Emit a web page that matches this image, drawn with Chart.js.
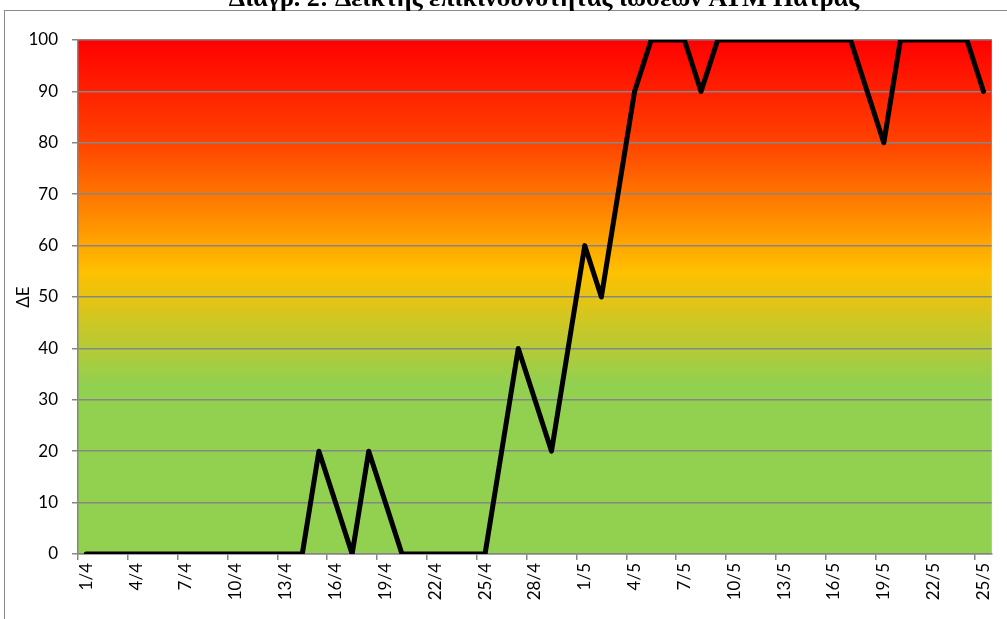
<!DOCTYPE html>
<html>
<head>
<meta charset="utf-8">
<script src="https://cdn.jsdelivr.net/npm/chart.js@4"></script>
<style>
  html, body { margin: 0; padding: 0; background: #fff; overflow: hidden; }
  #wrap { position: relative; width: 1007px; height: 619px; }
</style>
</head>
<body>
<div id="wrap"><canvas id="chart" width="1007" height="619"></canvas></div>
<script>
// dates 1/4 .. 25/5
const days = [];
for (let d = 1; d <= 30; d++) days.push(d + "/4");
for (let d = 1; d <= 25; d++) days.push(d + "/5");

// ΔΕ risk index per day
const riskIndex = [
  0, 0, 0, 0, 0, 0, 0, 0, 0, 0, 0, 0, 0, 0,
  20, 10, 0, 20, 10, 0,
  0, 0, 0, 0, 0,
  20, 40, 30, 20, 40, 60, 50, 70, 90,
  100, 100, 100, 90,
  100, 100, 100, 100, 100, 100, 100, 100, 100,
  90, 80, 100,
  100, 100, 100, 100, 90
];

const yTicks = [0, 10, 20, 30, 40, 50, 60, 70, 80, 90, 100];

const chartTitle = "Διάγρ. 2: Δείκτης επικινδυνότητας ιώσεων ΑΤΜ Πάτρας";
const axisFont = { family: "Lato", size: 17 };

// gradient background + frame + clipped title
const decor = {
  id: "decor",
  beforeDraw(chart) {
    const { ctx, chartArea: a } = chart;
    let g = ctx.createLinearGradient(0, a.top, 0, a.bottom);
    g.addColorStop(0, "#FF0000");
    g.addColorStop(0.2, "#FF4300");
    g.addColorStop(0.45, "#FFC000");
    g.addColorStop(0.67, "#92D050");
    g.addColorStop(1, "#92D050");
    ctx.save();
    ctx.fillStyle = g;
    ctx.fillRect(a.left, a.top, a.right - a.left, a.bottom - a.top);
    ctx.restore();
  },
  afterDraw(chart) {
    const ctx = chart.ctx;
    ctx.save();
    ctx.strokeStyle = "#8a8a8a";
    ctx.lineWidth = 1;
    ctx.strokeRect(4.5, 10.5, 1040, 700);
    ctx.fillStyle = "#000";
    ctx.font = "bold 26px 'Liberation Serif'";
    ctx.textAlign = "center";
    ctx.textBaseline = "alphabetic";
    ctx.fillText(chartTitle, 544, 6);
    ctx.restore();
  }
};

let ctx = document.getElementById("chart").getContext("2d");

let chart = new Chart(ctx, {
  type: "line",
  data: {
    labels: days,
    datasets: [{
      label: "ΔΕ",
      data: riskIndex,
      borderColor: "#000",
      borderWidth: 5,
      borderJoinStyle: "round",
      borderCapStyle: "round",
      pointRadius: 0,
      tension: 0
    }]
  },
  options: {
    responsive: false,
    animation: false,
    layout: { padding: { top: 40, right: 11, left: 8, bottom: 0 } },
    plugins: {
      legend: { display: false },
      tooltip: { enabled: false }
    },
    scales: {
      x: {
        offset: true,
        afterFit: (s) => { s.height = 65; },
        border: { color: "#868686", width: 1.5 },
        grid: {
          offset: true,
          drawOnChartArea: false,
          tickLength: 6,
          lineWidth: 1.5,
          color: (c) => (c.index % 3 === 0 ? "#868686" : "rgba(0,0,0,0)")
        },
        ticks: {
          autoSkip: false,
          minRotation: 90,
          maxRotation: 90,
          padding: 3,
          color: "#000",
          font: axisFont,
          callback: (v, i) => (i % 3 === 0 ? days[i] : "")
        }
      },
      y: {
        min: 0,
        max: 100,
        afterFit: (s) => { s.width = 70; },
        afterBuildTicks: (s) => { s.ticks = yTicks.map(v => ({ value: v })); },
        border: { color: "#868686", width: 1.5 },
        grid: { color: "#868686", lineWidth: 1.5, tickLength: 6 },
        ticks: { color: "#000", font: axisFont, padding: 14 },
        title: {
          display: true,
          text: "ΔΕ",
          color: "#000",
          font: axisFont,
          padding: { top: 5, bottom: 0 }
        }
      }
    }
  },
  plugins: [decor]
});
</script>
</body>
</html>
